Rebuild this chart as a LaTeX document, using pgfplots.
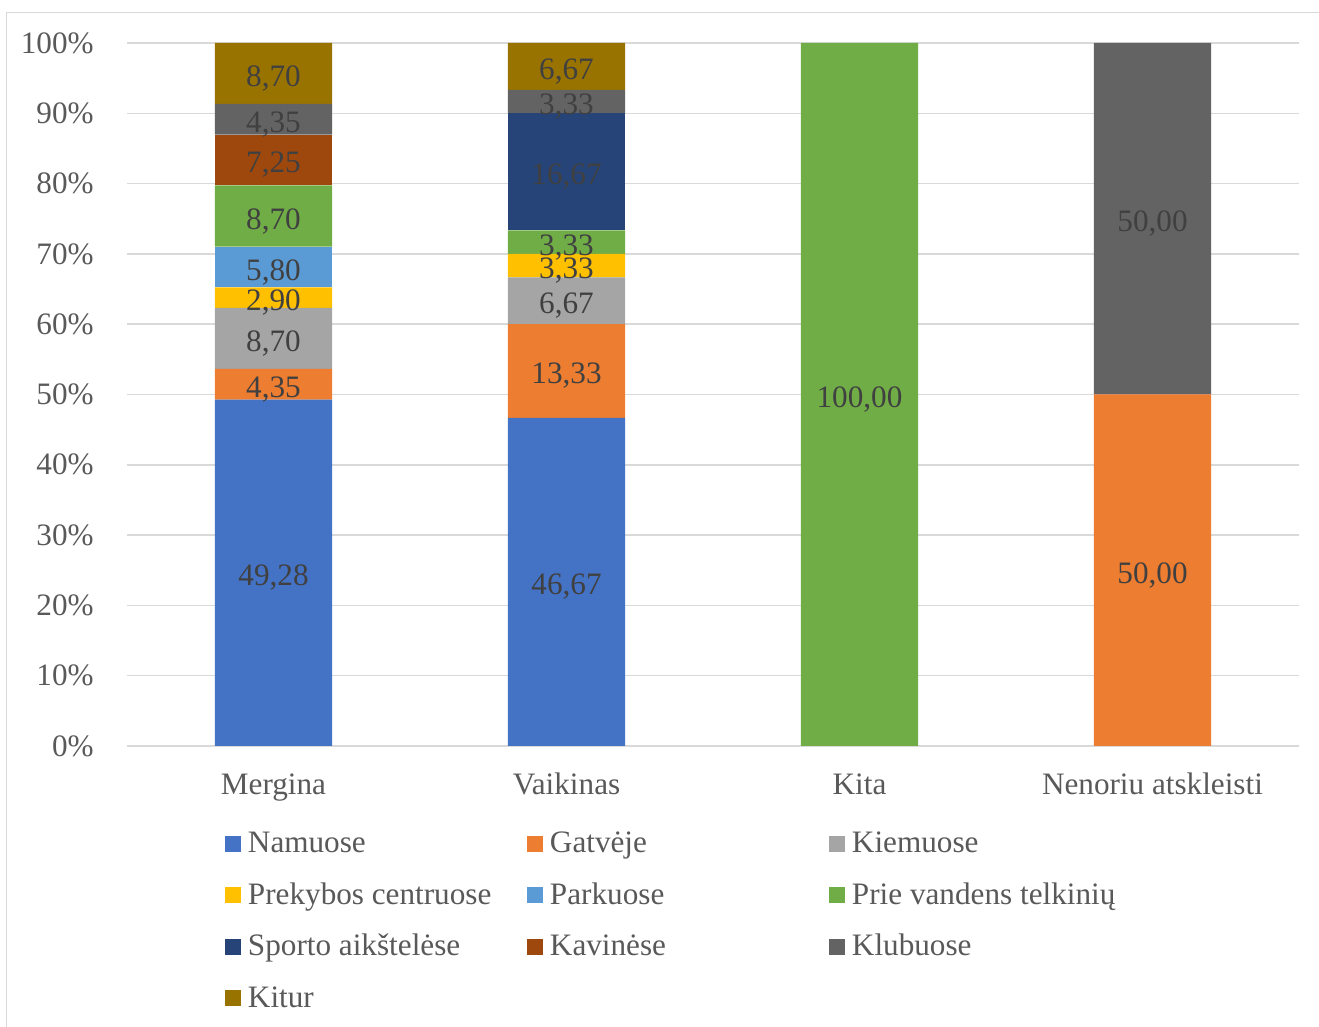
\documentclass[border=0pt]{standalone}
\usepackage{fontspec}
\setmainfont{Liberation Serif}
\usepackage{pgfplots}
\usepackage{pgfplotstable}
\pgfplotsset{compat=1.18}

\definecolor{cNam}{HTML}{4472C4}
\definecolor{cGat}{HTML}{ED7D31}
\definecolor{cKie}{HTML}{A5A5A5}
\definecolor{cPre}{HTML}{FFC000}
\definecolor{cPar}{HTML}{5B9BD5}
\definecolor{cPri}{HTML}{70AD47}
\definecolor{cSpo}{HTML}{264478}
\definecolor{cKav}{HTML}{9E480E}
\definecolor{cKlu}{HTML}{636363}
\definecolor{cKit}{HTML}{997300}
\definecolor{cgrid}{HTML}{D9D9D9}
\definecolor{ticktext}{HTML}{595959}
\definecolor{valtext}{HTML}{404040}

% shares in percent, one row per group
\pgfplotstableread{
x Nam   Gat   Kie  Pre  Par  Pri  Spo   Kav  Klu  Kit
0 49.28 4.35  8.70 2.90 5.80 8.70 0     7.25 4.35 8.70
1 46.67 13.33 6.67 3.33 0    3.33 16.67 0    3.33 6.67
2 0     0     0    0    0    100  0     0    0    0
3 0     50    0    0    0    0    0     0    50   0
}\data

% value labels: middle of each non-empty segment
\pgfplotstableread{
x mid    lbl
0 24.64  49,28
0 51.455 4,35
0 57.98  8,70
0 63.78  2,90
0 68.13  5,80
0 75.38  8,70
0 83.355 7,25
0 89.155 4,35
0 95.68  8,70
1 23.335 46,67
1 53.335 13,33
1 63.335 6,67
1 68.335 3,33
1 71.665 3,33
1 81.665 16,67
1 91.665 3,33
1 96.665 6,67
2 50     100,00
3 25     50,00
3 75     50,00
}\labels

\newcommand\lent[1]{\makebox[139.5pt][l]{\rule[-8.375pt]{0pt}{25.75pt}#1}}

\pgfplotsset{
  frame/.style={
    at={(63.5pt,140.5pt)}, anchor=south west,
    scale only axis,
    width=586pt, height=351.5pt,
    xmin=-0.5, xmax=3.5,
    ymin=0, ymax=100,
  },
}

\begin{document}
\begin{tikzpicture}[font=\fontsize{15.6}{18.7}\selectfont]
\useasboundingbox (0,0) rectangle (659.5pt,513.5pt);
\draw[cgrid, line width=0.75pt] (3.25pt,0) -- (3.25pt,507.15pt) -- (659.5pt,507.15pt);
\begin{axis}[
    frame,
    ybar stacked,
    bar width=0.4,
    xtick={0,1,2,3},
    xticklabels={Mergina, Vaikinas, Kita, Nenoriu atskleisti},
    ytick={0,10,...,100},
    yticklabels={0\%,10\%,20\%,30\%,40\%,50\%,60\%,70\%,80\%,90\%,100\%},
    major tick length=0pt,
    axis line style={draw=none},
    ymajorgrids,
    major grid style={cgrid, line width=0.75pt},
    xticklabel style={anchor=base, inner sep=0pt, yshift=-24.5pt, text=ticktext},
    yticklabel style={anchor=east, inner sep=0pt, xshift=-16.5pt, text=ticktext},
    legend columns=3,
    legend cell align=left,
    legend style={at={(axis description cs:0.0836,-0.10277)}, anchor=north west,
      draw=none, inner sep=0pt, outer sep=0pt,
      nodes={inner sep=0pt, text depth=8.375pt, text=ticktext},
      /tikz/every odd column/.append style={column sep=3.5pt},
      row sep=0pt},
    legend image code/.code={\fill[#1] (0pt,-4pt) rectangle (8pt,4pt);},
]
\addplot[fill=cNam, draw=none] table[x=x,y=Nam]{\data};
\addplot[fill=cGat, draw=none] table[x=x,y=Gat]{\data};
\addplot[fill=cKie, draw=none] table[x=x,y=Kie]{\data};
\addplot[fill=cPre, draw=none] table[x=x,y=Pre]{\data};
\addplot[fill=cPar, draw=none] table[x=x,y=Par]{\data};
\addplot[fill=cPri, draw=none] table[x=x,y=Pri]{\data};
\addplot[fill=cSpo, draw=none] table[x=x,y=Spo]{\data};
\addplot[fill=cKav, draw=none] table[x=x,y=Kav]{\data};
\addplot[fill=cKlu, draw=none] table[x=x,y=Klu]{\data};
\addplot[fill=cKit, draw=none] table[x=x,y=Kit]{\data};
\legend{\lent{Namuose},\lent{Gatvėje},\lent{Kiemuose},
  \lent{Prekybos centruose},\lent{Parkuose},\lent{Prie vandens telkinių},
  \lent{Sporto aikštelėse},\lent{Kavinėse},\lent{Klubuose},
  \lent{Kitur}}
\end{axis}
\begin{axis}[
    frame,
    hide axis,
    nodes near coords,
    point meta=explicit symbolic,
    every node near coord/.append style={anchor=center, inner sep=0pt, yshift=-2.5pt, text=valtext},
]
\addplot[only marks, mark=none] table[x=x, y=mid, meta=lbl]{\labels};
\end{axis}
\end{tikzpicture}
\end{document}
